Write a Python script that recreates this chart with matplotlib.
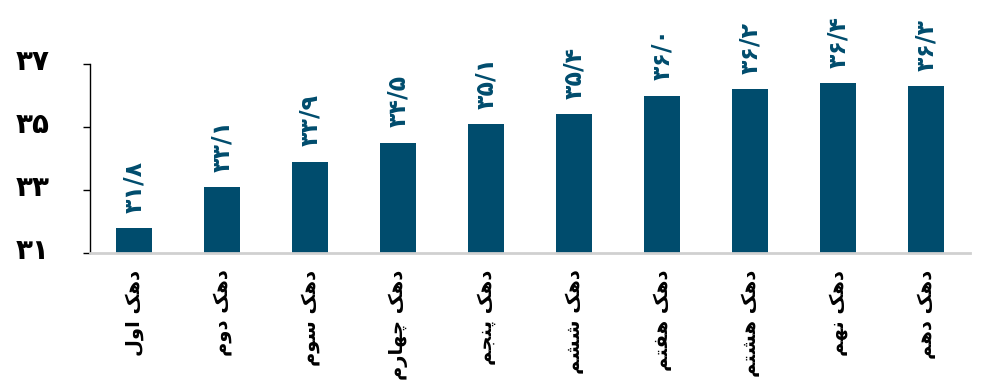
import matplotlib
matplotlib.use("Agg")
import matplotlib.pyplot as plt
from matplotlib.transforms import ScaledTranslation

categories = ["دهک اول", "دهک دوم", "دهک سوم", "دهک چهارم", "دهک پنجم",
              "دهک ششم", "دهک هفتم", "دهک هشتم", "دهک نهم", "دهک دهم"]
values = [31.8, 33.1, 33.9, 34.5, 35.1, 35.4, 36.0, 36.2, 36.4, 36.3]
yticks = [31, 33, 35, 37]

# minimal Arabic-script shaping (presentation forms) for matplotlib
FORMS = {
    'ا': ('\uFE8D', '\uFE8E', None, None),
    'د': ('\uFEA9', '\uFEAA', None, None),
    'ر': ('\uFEAD', '\uFEAE', None, None),
    'و': ('\uFEED', '\uFEEE', None, None),
    'ه': ('\uFEE9', '\uFEEA', '\uFEEB', '\uFEEC'),
    'ک': ('\uFB8E', '\uFB8F', '\uFB90', '\uFB91'),
    'ل': ('\uFEDD', '\uFEDE', '\uFEDF', '\uFEE0'),
    'م': ('\uFEE1', '\uFEE2', '\uFEE3', '\uFEE4'),
    'س': ('\uFEB1', '\uFEB2', '\uFEB3', '\uFEB4'),
    'چ': ('\uFB7A', '\uFB7B', '\uFB7C', '\uFB7D'),
    'پ': ('\uFB56', '\uFB57', '\uFB58', '\uFB59'),
    'ن': ('\uFEE5', '\uFEE6', '\uFEE7', '\uFEE8'),
    'ج': ('\uFE9D', '\uFE9E', '\uFE9F', '\uFEA0'),
    'ش': ('\uFEB5', '\uFEB6', '\uFEB7', '\uFEB8'),
    'ف': ('\uFED1', '\uFED2', '\uFED3', '\uFED4'),
    'ت': ('\uFE95', '\uFE96', '\uFE97', '\uFE98'),
}

def dual(c):
    return c in FORMS and FORMS[c][2] is not None

def shape(s):
    out = []
    for i, c in enumerate(s):
        if c not in FORMS:
            out.append(c)
            continue
        prev = s[i - 1] if i > 0 else ''
        nxt = s[i + 1] if i + 1 < len(s) else ''
        jp = dual(prev)
        jn = dual(c) and nxt in FORMS
        iso, fin, ini, med = FORMS[c]
        if jp and jn:
            out.append(med)
        elif jp:
            out.append(fin)
        elif jn:
            out.append(ini)
        else:
            out.append(iso)
    return ''.join(out)[::-1]

PD = str.maketrans('0123456789.', '۰۱۲۳۴۵۶۷۸۹/')

def fa_num(v, fmt):
    return format(v, fmt).translate(PD)

bar_color = '#004c6d'

fig = plt.figure(figsize=(9.87, 3.82), dpi=100)
ax = fig.add_axes([90 / 987, 1 - 253 / 382, 880 / 987, (253 - 64) / 382])

x = list(range(len(values)))
ax.bar(x, values, width=0.42, color=bar_color, bottom=0)
ax.set_ylim(31, 37)
ax.set_xlim(-0.5, len(values) - 0.5)

for xi, v in zip(x, values):
    ax.annotate(fa_num(v, '.1f'), (xi, v), xytext=(0, 11), textcoords='offset points',
                rotation=90, ha='center', va='bottom', fontsize=17, fontweight='bold',
                color=bar_color, family='DejaVu Sans')

ax.set_yticks(yticks)
ax.set_yticklabels([fa_num(t, 'd') for t in yticks], fontsize=20, fontweight='bold',
                   family='DejaVu Sans')
ax.tick_params(axis='y', length=5, width=1, pad=24, color='black')
for lbl in ax.get_yticklabels():
    lbl.set_transform(lbl.get_transform() + ScaledTranslation(0, 5 / 100, fig.dpi_scale_trans))

ax.set_xticks(x)
ax.set_xticklabels([shape(c) for c in categories], rotation=90, fontsize=14,
                   fontweight='bold', family='DejaVu Sans', va='top', ha='center')
ax.tick_params(axis='x', length=0, pad=12)

for s in ['top', 'right']:
    ax.spines[s].set_visible(False)
ax.spines['left'].set_color('black')
ax.spines['left'].set_linewidth(1)
ax.spines['bottom'].set_color('#d0d0d0')
ax.spines['bottom'].set_linewidth(2)

fig.savefig('out.png', dpi=100)
